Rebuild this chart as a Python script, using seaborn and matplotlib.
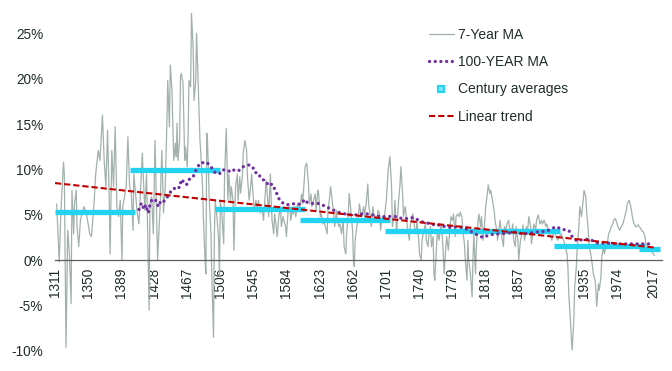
import matplotlib
matplotlib.use('Agg')
import matplotlib.pyplot as plt
from matplotlib.lines import Line2D
from matplotlib.ticker import FuncFormatter
import seaborn as sns

# 7-year moving average (% per year)
ma7_years = [1313, 1316, 1318, 1321, 1322, 1324, 1326, 1328, 1330, 1331, 1333, 1334, 1336, 1337, 1339,
             1341, 1345, 1348, 1352, 1354, 1357, 1359, 1362, 1364, 1367, 1369, 1371, 1373, 1375, 1376,
             1378, 1380, 1382, 1384, 1386, 1388, 1390, 1391, 1395, 1397, 1399, 1401, 1403, 1404, 1406,
             1408, 1410, 1414, 1415, 1417, 1419, 1422, 1423, 1425, 1427, 1429, 1432, 1435, 1437, 1439,
             1441, 1443, 1444, 1446, 1447, 1449, 1450, 1451, 1453, 1454, 1455, 1456, 1458, 1459, 1460,
             1462, 1464, 1465, 1467, 1468, 1469, 1471, 1472, 1474, 1475, 1477, 1478, 1480, 1482, 1483,
             1485, 1486, 1488, 1489, 1490, 1491, 1493, 1495, 1496, 1498, 1499, 1500, 1502, 1504, 1505,
             1506, 1508, 1510, 1511, 1513, 1515, 1516, 1518, 1519, 1521, 1522, 1524, 1526, 1527, 1529,
             1530, 1532, 1533, 1535, 1537, 1538, 1540, 1541, 1543, 1544, 1546, 1548, 1549, 1551, 1553,
             1555, 1557, 1559, 1560, 1562, 1563, 1565, 1566, 1567, 1569, 1570, 1572, 1573, 1575, 1577,
             1578, 1580, 1581, 1583, 1584, 1586, 1588, 1589, 1591, 1592, 1594, 1595, 1597, 1599, 1600,
             1602, 1603, 1605, 1606, 1608, 1610, 1611, 1613, 1614, 1616, 1618, 1619, 1621, 1622, 1624,
             1625, 1627, 1628, 1630, 1632, 1633, 1635, 1636, 1638, 1640, 1641, 1643, 1644, 1646, 1647,
             1649, 1651, 1652, 1654, 1655, 1657, 1658, 1660, 1662, 1663, 1664, 1665, 1667, 1669, 1670,
             1672, 1673, 1675, 1676, 1678, 1680, 1681, 1683, 1684, 1686, 1687, 1689, 1691, 1692, 1694,
             1695, 1697, 1698, 1700, 1702, 1704, 1706, 1708, 1709, 1711, 1712, 1714, 1716, 1718, 1719,
             1721, 1722, 1724, 1726, 1727, 1729, 1730, 1732, 1733, 1735, 1737, 1738, 1740, 1741, 1743,
             1744, 1746, 1748, 1749, 1751, 1752, 1754, 1755, 1757, 1758, 1759, 1761, 1762, 1764, 1766,
             1767, 1769, 1770, 1772, 1773, 1775, 1777, 1778, 1780, 1781, 1783, 1784, 1786, 1788, 1789,
             1791, 1792, 1794, 1795, 1797, 1798, 1799, 1801, 1803, 1804, 1805, 1807, 1808, 1810, 1811,
             1813, 1814, 1816, 1818, 1819, 1821, 1822, 1824, 1825, 1827, 1829, 1830, 1832, 1833, 1835,
             1836, 1838, 1840, 1841, 1843, 1844, 1846, 1847, 1849, 1851, 1852, 1854, 1855, 1857, 1858,
             1860, 1862, 1863, 1865, 1867, 1868, 1870, 1872, 1873, 1875, 1876, 1878, 1879, 1881, 1883,
             1885, 1886, 1888, 1890, 1891, 1893, 1894, 1896, 1897, 1899, 1901, 1902, 1904, 1906, 1908,
             1911, 1913, 1915, 1916, 1917, 1919, 1920, 1921, 1923, 1924, 1926, 1927, 1929, 1930, 1932,
             1934, 1935, 1937, 1938, 1940, 1941, 1943, 1945, 1946, 1948, 1949, 1950, 1952, 1953, 1955,
             1956, 1958, 1959, 1961, 1963, 1964, 1966, 1967, 1969, 1970, 1972, 1974, 1975, 1977, 1978,
             1980, 1981, 1983, 1985, 1986, 1988, 1989, 1991, 1992, 1994, 1996, 1997, 1999, 2000, 2002,
             2003, 2005, 2007, 2008, 2010, 2011, 2013, 2015, 2017, 2018]
ma7 = [6.2, -0.2, 5.5, 10.8, 9.5, -9.6, 3.3, 0.7, -4.8, 7.7, 2.9, 6.2, 7.7, 3.7, 1.5,
       4.4, 5.9, 5.2, 2.9, 2.6, 6.2, 9.5, 12.1, 11.0, 16.0, 11.0, 8.1, 14.3, 6.6, 0.7,
       12.1, 8.1, 14.7, 5.9, 4.8, 6.6, 0.0, 5.9, 8.1, 13.6, 8.1, 7.4, 3.3, 9.5, 7.4,
       5.2, 4.0, 11.8, 9.5, 5.5, 9.5, -5.5, 6.2, 7.0, 2.9, 13.2, 0.0, 5.9, 12.1, 5.2,
       8.1, 15.1, 19.8, 14.7, 21.5, 18.7, 14.7, 11.0, 12.9, 11.4, 15.1, 11.0, 13.2, 20.2, 20.6,
       19.5, 11.0, 12.5, 10.3, 13.6, 19.8, 19.1, 27.2, 23.2, 17.6, 19.8, 25.0, 19.1, 13.2, 11.8,
       8.1, 4.8, 0.0, -1.5, 14.0, 12.9, 6.6, 2.9, -1.8, -8.5, 2.9, 6.6, 4.8, 2.2, -1.8,
       6.6, 4.8, 1.8, 9.2, 14.5, 6.6, 9.5, 6.6, 8.1, 6.6, 1.1, 8.1, 9.5, 6.6, 9.2,
       7.4, 9.2, 11.8, 13.2, 12.1, 9.2, 6.6, 7.4, 9.5, 8.1, 5.5, 6.6, 5.5, 6.6, 5.2,
       5.8, 4.4, 7.3, 8.8, 6.6, 4.8, 9.5, 6.6, 4.4, 2.9, 5.1, 3.7, 2.6, 4.8, 5.9,
       3.7, 4.8, 4.4, 3.7, 2.6, 5.5, 5.9, 4.4, 5.5, 5.1, 5.9, 4.8, 6.2, 5.5, 5.9,
       7.3, 6.2, 8.8, 10.3, 10.7, 8.4, 6.2, 7.3, 5.9, 6.6, 7.3, 5.5, 7.7, 7.3, 4.8,
       5.1, 4.0, 4.4, 3.7, 2.9, 5.5, 7.0, 8.1, 6.6, 4.8, 3.7, 5.5, 4.4, 3.7, 4.0,
       2.9, 4.4, 1.5, 0.7, 2.9, 5.1, 7.35, 5.5, 3.3, 0.0, -0.7, 2.2, 3.7, 4.8, 6.2,
       5.1, 4.8, 5.9, 4.8, 6.2, 8.4, 6.2, 4.8, 3.7, 5.9, 5.1, 4.8, 4.4, 5.5, 5.1,
       3.3, 4.8, 4.4, 5.1, 6.8, 9.9, 11.4, 8.1, 3.7, 4.8, 6.6, 2.9, 6.2, 8.4, 10.3,
       7.35, 4.8, 5.9, 4.4, 3.3, 2.2, 3.7, 4.8, 5.1, 3.7, 2.9, 4.4, 2.2, 0.7, 0.0,
       2.2, 3.3, 4.0, 2.2, 1.5, 2.9, 3.7, 1.5, 2.6, -1.5, -2.2, 1.5, 3.3, 2.2, 3.7,
       4.0, 0.7, -1.5, 1.5, 2.6, 1.1, 3.7, 4.8, 4.4, 5.1, 2.6, 4.8, 5.1, 4.8, 5.3,
       4.8, 3.3, 1.8, 0.0, -2.2, 2.2, 0.0, -1.5, -4.05, 0.0, 2.9, -1.5, 1.5, 4.4, 5.1,
       3.7, 4.8, 2.2, 4.4, 5.9, 7.35, 8.3, 7.35, 7.7, 6.6, 5.5, 4.4, 3.3, 2.2, 3.7,
       4.4, 2.6, 1.5, 3.7, 3.3, 4.0, 4.4, 3.7, 2.9, 4.0, 2.2, 1.5, 3.7, 2.2, 0.0,
       2.2, 2.9, 3.9, 2.2, 3.7, 2.9, 4.8, 3.7, 1.8, 3.3, 4.0, 3.3, 4.4, 5.0, 4.0,
       4.4, 4.0, 4.4, 3.7, 4.0, 3.3, 2.9, 2.6, 2.2, 2.9, 3.1, 2.6, 2.2, 2.6, 2.9,
       2.2, 1.5, 0.7, -0.7, -3.7, -6.6, -8.5, -9.9, -6.6, -2.9, -0.7, 1.5, 3.7, 5.9, 4.8,
       6.6, 7.7, 7.0, 5.5, 3.3, 1.5, 0.7, -0.7, -1.5, -2.2, -3.3, -5.1, -2.6, -3.3, -1.8,
       0.4, 1.5, 0.7, 1.5, 2.2, 2.9, 3.3, 3.7, 4.0, 4.4, 4.6, 4.0, 3.7, 3.3, 3.5,
       3.9, 4.0, 4.8, 5.5, 6.2, 6.6, 6.4, 5.5, 4.8, 4.0, 3.7, 3.7, 3.9, 3.7, 3.5,
       3.3, 3.1, 2.6, 1.8, 1.5, 1.3, 1.1, 0.9, 0.7, 0.5]

# 100-year moving average
ma100_years = [1410, 1413, 1416, 1418, 1421, 1423, 1425, 1428, 1430, 1433, 1436, 1440, 1443, 1447, 1450,
               1453, 1458, 1460, 1466, 1470, 1474, 1476, 1482, 1490, 1495, 1499, 1505, 1508, 1512, 1516,
               1520, 1524, 1528, 1533, 1537, 1540, 1544, 1547, 1550, 1555, 1559, 1563, 1567, 1571, 1575,
               1578, 1584, 1590, 1597, 1600, 1606, 1608, 1614, 1622, 1626, 1633, 1640, 1645, 1651, 1658,
               1667, 1673, 1681, 1689, 1696, 1704, 1708, 1714, 1720, 1726, 1734, 1742, 1748, 1755, 1760,
               1765, 1771, 1779, 1787, 1795, 1803, 1810, 1816, 1822, 1830, 1838, 1846, 1854, 1862, 1868,
               1879, 1891, 1902, 1909, 1917, 1921, 1927, 1934, 1942, 1950, 1962, 1974, 1986, 1999, 2008,
               2017]
ma100 = [5.6, 6.3, 5.6, 6.1, 5.2, 6.1, 6.6, 6.4, 6.6, 5.9, 6.6, 6.5, 6.9, 7.5, 7.6,
         8.1, 8.0, 8.9, 8.3, 9.0, 9.2, 9.7, 10.7, 10.8, 10.3, 9.7, 9.5, 9.95, 9.95, 9.8,
         10.05, 9.8, 9.9, 10.3, 10.4, 10.5, 10.3, 9.65, 9.65, 8.9, 8.8, 8.2, 8.4, 7.7, 6.8,
         6.4, 6.1, 6.2, 6.25, 6.15, 6.7, 6.4, 6.25, 6.25, 6.1, 5.8, 5.5, 5.3, 5.15, 5.0,
         5.0, 5.1, 5.1, 4.9, 4.8, 4.8, 4.85, 4.8, 4.6, 4.6, 4.7, 4.3, 4.1, 4.05, 3.8,
         3.9, 3.7, 3.6, 3.7, 3.5, 3.1, 2.75, 2.5, 2.75, 2.9, 2.9, 3.0, 3.1, 2.9, 2.95,
         3.1, 3.2, 3.7, 3.4, 3.3, 2.6, 2.1, 2.3, 2.3, 1.9, 1.9, 1.8, 1.8, 1.8, 1.8,
         1.8]

# century averages
century_start = [1311, 1400, 1500, 1600, 1700, 1800, 1900, 2000]
century_end = [1405, 1506, 1606, 1706, 1806, 1907, 2007, 2025]
century_avg = [5.3, 9.9, 5.6, 4.4, 3.2, 3.2, 1.55, 1.25]

# linear trend end points
trend_years = [1311, 2018]
trend_vals = [8.5, 1.4]

xticks = [1311, 1350, 1389, 1428, 1467, 1506, 1545, 1584, 1623, 1662, 1701, 1740,
          1779, 1818, 1857, 1896, 1935, 1974, 2017]
yticks = [-10, -5, 0, 5, 10, 15, 20, 25]

c_ma7 = '#a2b1aa'
c_ma100 = '#7030a0'
c_cent = '#22d3f2'
c_trend = '#c00000'
c_text = '#1e2d28'
dots = (0, (0.01, 1.7))
dashes = (0, (3.0, 1.4))

sns.set_style('white')
plt.rcParams['font.family'] = ['Liberation Sans', 'DejaVu Sans']

fig = plt.figure(figsize=(6.72, 3.71), dpi=100)
ax = fig.add_axes([55 / 672, 20 / 371, 607 / 672, 351 / 371])

sns.lineplot(x=ma7_years, y=ma7, estimator=None, color=c_ma7, linewidth=0.9, ax=ax, zorder=2)
ax.hlines(century_avg, century_start, century_end, colors=c_cent, linewidth=3.8, zorder=3)
sns.lineplot(x=ma100_years, y=ma100, estimator=None, color=c_ma100, linewidth=2.4,
             linestyle=dots, dash_capstyle='round', ax=ax, zorder=4)
sns.lineplot(x=trend_years, y=trend_vals, estimator=None, color=c_trend, linewidth=1.5,
             linestyle=dashes, ax=ax, zorder=5)

ax.set_xlim(1311, 2027)
ax.set_ylim(-10, 28.67)
for s in ['top', 'right', 'left']:
    ax.spines[s].set_visible(False)
ax.spines['bottom'].set_position(('data', 0))
ax.spines['bottom'].set_color('#5e5e5e')
ax.spines['bottom'].set_linewidth(0.9)

ax.set_xticks(xticks)
ax.set_xticklabels([str(t) for t in xticks])
ax.set_yticks(yticks)
ax.yaxis.set_major_formatter(FuncFormatter(lambda v, p: '{:.0f}%'.format(v)))
ax.tick_params(axis='x', length=0, pad=5.5, labelsize=9.8, labelcolor=c_text, labelrotation=90)
ax.tick_params(axis='y', length=0, pad=8.5, labelsize=9.8, labelcolor=c_text)
ax.set_xlabel('')
ax.set_ylabel('')
ax.grid(False)
ax.patch.set_alpha(0)

handles = [
    Line2D([], [], color=c_ma7, linewidth=0.9),
    Line2D([], [], color=c_ma100, linewidth=2.4, linestyle=dots, dash_capstyle='round'),
    Line2D([], [], color=c_cent, linestyle='none', marker='s', markersize=5,
           markerfacecolor='#7fe6f8', markeredgecolor=c_cent, markeredgewidth=1.5),
    Line2D([], [], color=c_trend, linewidth=1.5, linestyle=dashes),
]
labels = ['7-Year MA', '100-YEAR MA', 'Century averages', 'Linear trend']
leg = ax.legend(handles, labels, loc='upper left', bbox_to_anchor=(429 / 672, 1 - 28 / 371),
                bbox_transform=fig.transFigure, frameon=False, fontsize=10, handlelength=1.8,
                handletextpad=0.3, labelspacing=0.95, borderpad=0, borderaxespad=0)
for t in leg.get_texts():
    t.set_color(c_text)

fig.savefig('out.png', dpi=100)
